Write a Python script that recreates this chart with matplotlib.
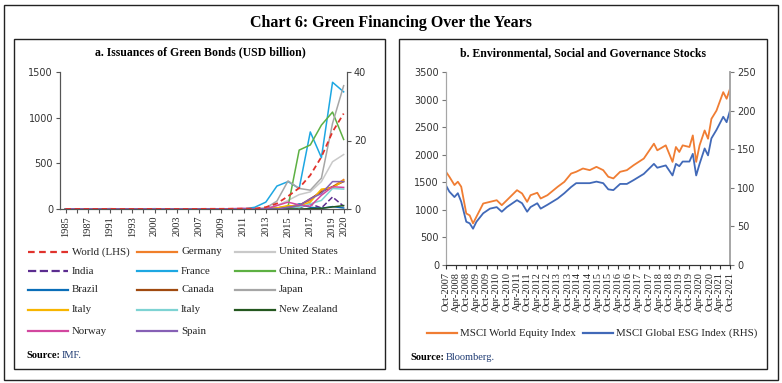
import matplotlib

matplotlib.use("Agg")
import matplotlib.pyplot as plt
from matplotlib.lines import Line2D
from matplotlib.patches import Rectangle

plt.rcParams["font.family"] = ["Liberation Serif", "DejaVu Serif"]

# ---- panel a: green bond issuance ----
years = ["1985", "1986", "1987", "1990", "1991", "1992", "1993", "1999", "2000",
         "2002", "2003", "2005", "2007", "2008", "2009", "2010", "2011", "2012",
         "2013", "2014", "2015", "2016", "2017", "2018", "2019", "2020"]
zeros = [0] * 17
world = [0, 0, 0, 0, 1, 0, 0, 0, 1, 0, 0, 0, 1, 2, 2, 3, 4,
         5, 20, 60, 140, 230, 370, 570, 845, 1045]
germany = [0, 0, 0, 0, 0.1, 0, 0, 0, 0, 0, 0, 0, 0, 0, 0, 0, 0,
           0, 0, 0.3, 0.8, 1.2, 2.5, 5.5, 6.5, 8.6]
united_states = zeros + [0, 0.3, 1.0, 2.5, 4.2, 5.0, 8.0, 13.8, 15.9]
india = zeros + [0, 0, 0, 0.5, 0.3, 1.5, 0.3, 3.5, 0.8]
france = zeros + [0.5, 2.0, 6.7, 8.0, 6.0, 22.5, 15.0, 37.0, 34.2]
china = zeros + [0, 0.1, 0.3, 0.7, 17.2, 18.7, 24.5, 28.3, 20.3]
brazil = zeros + [0, 0, 0, 0.3, 1.5, 0.5, 0.2, 0.7, 0.3]
canada = zeros + [0, 0, 0, 0.3, 1.0, 3.0, 5.0, 6.5, 8.0]
japan = zeros + [0, 0.3, 2.3, 8.2, 6.0, 5.5, 9.0, 25.0, 36.0]
italy = zeros + [0, 0, 0.3, 1.0, 0.8, 2.0, 5.8, 6.2, 8.3]
italy_2 = [0, 0, 0, 0, 0, 0, 0, 0, 0.1, 0, 0, 0, 0, 0, 0, 0, 0,
           0, 0, 0, 0, 0.5, 1.5, 2.5, 6.0, 5.8]
new_zealand = zeros + [0, 0, 0, 0, 0, 0.1, 0.2, 0.6, 1.0]
norway = [0, 0, 0, 0, 0, 0, 0, 0, 0, 0, 0, 0, 0, 0, 0, 0.1, 0.2,
          0, 0, 1.0, 2.0, 1.2, 0.8, 4.0, 6.5, 6.3]
spain = zeros + [0, 0, 0, 0.5, 1.0, 3.0, 4.5, 8.0, 8.0]

# ---- panel b: MSCI indices (months since Oct-2007) ----
months = [0, 2, 5, 7, 9, 12, 14, 16, 18, 22, 26, 30, 33, 36, 42, 45, 48, 50,
          54, 56, 60, 66, 70, 74, 77, 81, 85, 89, 93, 96, 99, 103, 107, 111,
          117, 123, 125, 130, 134, 136, 138, 140, 144, 146, 148, 150, 153,
          155, 157, 160, 164, 166, 168]
msci_world = [1690, 1600, 1450, 1510, 1420, 935, 900, 755, 875, 1115, 1145,
              1175, 1085, 1175, 1357, 1297, 1145, 1266, 1310, 1206, 1266,
              1417, 1508, 1658, 1690, 1750, 1720, 1780, 1720, 1600, 1570,
              1690, 1720, 1810, 1930, 2200, 2080, 2170, 1870, 2140, 2050,
              2170, 2140, 2350, 1870, 2170, 2440, 2290, 2650, 2800, 3135,
              3015, 3195]
msci_esg = [103, 95, 88, 93, 82, 56, 54, 47, 56, 67, 73, 75, 69, 75, 84, 80,
            69, 75, 80, 73, 78, 86, 93, 101, 106, 106, 106, 108, 106, 98, 97,
            105, 105, 110, 118, 131, 126, 129, 116, 131, 128, 134, 134, 144,
            116, 131, 151, 142, 164, 175, 192, 185, 200]
b_tick_labels = ["Oct-2007", "Apr-2008", "Oct-2008", "Apr-2009", "Oct-2009",
                 "Apr-2010", "Oct-2010", "Apr-2011", "Oct-2011", "Apr-2012",
                 "Oct-2012", "Apr-2013", "Oct-2013", "Apr-2014", "Oct-2014",
                 "Apr-2015", "Oct-2015", "Apr-2016", "Oct-2016", "Apr-2017",
                 "Oct-2017", "Apr-2018", "Oct-2018", "Apr-2019", "Oct-2019",
                 "Apr-2020", "Oct-2020", "Apr-2021", "Oct-2021"]

W, H = 782, 383
fig = plt.figure(figsize=(W / 100, H / 100), dpi=100)


def box(x0, y0, x1, y1, lw=1.0):
    fig.patches.append(Rectangle((x0 / W, 1 - y1 / H), (x1 - x0) / W, (y1 - y0) / H,
                                 transform=fig.transFigure, fill=False,
                                 edgecolor="#222222", linewidth=lw))


box(4, 5, 778, 380)
box(14, 39, 385, 369)
box(399, 39, 767, 369)
fig.text(391 / W, 1 - 23 / H, "Chart 6: Green Financing Over the Years",
         ha="center", va="center", fontsize=11.5, fontweight="bold")

# ---------- panel a ----------
ax = fig.add_axes([60 / W, 1 - 209 / H, 287 / W, 137 / H])
ax2 = ax.twinx()
x = list(range(len(years)))

others = [
    (germany, "#F07F2A", "-"), (united_states, "#C9C9C9", "-"),
    (india, "#5B2C8F", "--"), (france, "#1DA7E2", "-"),
    (china, "#5DB043", "-"), (brazil, "#0B6EB8", "-"),
    (canada, "#A04A10", "-"), (japan, "#A6A6A6", "-"),
    (italy, "#F7B500", "-"), (italy_2, "#7ED3D3", "-"),
    (new_zealand, "#24571F", "-"), (norway, "#D2479F", "-"),
    (spain, "#8660B5", "-"),
]
for vals, col, ls in others:
    ax2.plot(x, vals, color=col, linestyle=ls, linewidth=1.1)
ax.plot(x, world, color="#E0322C", linestyle=(0, (3, 2)), linewidth=1.3)
ax.set_zorder(ax2.get_zorder() + 1)
ax.patch.set_visible(False)

ax.set_xlim(-0.5, 25.3)
ax.set_ylim(0, 1500)
ax2.set_ylim(0, 40)
ax.set_yticks([0, 500, 1000, 1500])
ax2.set_yticks([0, 20, 40])
ax.set_xticks(x)
ax.set_xticklabels([y if (i % 2 == 0 or i == len(years) - 1) else ""
                    for i, y in enumerate(years)], rotation=90, fontsize=7.5)
for a in (ax, ax2):
    a.spines["top"].set_visible(False)
    a.spines["left"].set_color("#555555")
    a.spines["right"].set_color("#555555")
    a.spines["bottom"].set_color("#555555")
    a.tick_params(axis="y", length=3, pad=2, colors="#555555", labelsize=7)
    for lab in a.get_yticklabels():
        lab.set_fontfamily("DejaVu Sans")
        lab.set_color("#333333")
ax.tick_params(axis="x", length=3, pad=2, colors="#555555", labelcolor="#222222")

fig.text(200 / W, 1 - 52 / H, "a. Issuances of Green Bonds (USD billion)",
         ha="center", va="center", fontsize=8.5, fontweight="bold")

legend_names = ["World (LHS)", "Germany", "United States", "India", "France",
                "China, P.R.: Mainland", "Brazil", "Canada", "Japan", "Italy",
                "Italy", "New Zealand", "Norway", "Spain"]
legend_styles = [("#E0322C", (0, (3, 2)))] + [(c, l) for _, c, l in others]
col_x = [28, 137, 235]
row_y = [252, 271, 290, 310, 331]
for i, (name, (col, ls)) in enumerate(zip(legend_names, legend_styles)):
    r, c = divmod(i, 3)
    x0, y0 = col_x[c], row_y[r]
    fig.add_artist(Line2D([x0 / W, (x0 + 40) / W], [1 - y0 / H, 1 - y0 / H],
                          color=col, linestyle=ls, linewidth=1.6))
    fig.text((x0 + 44) / W, 1 - y0 / H, name, ha="left", va="center",
             fontsize=7.8, color="#222222")

fig.text(26 / W, 1 - 356 / H, "Source:", ha="left", va="center", fontsize=7.5,
         fontweight="bold")
fig.text(62 / W, 1 - 356 / H, "IMF.", ha="left", va="center", fontsize=7.5,
         color="#1F3B73")

# ---------- panel b ----------
bx = fig.add_axes([446 / W, 1 - 265 / H, 284 / W, 193 / H])
bx2 = bx.twinx()
bx.plot(months, msci_world, color="#F07D33", linewidth=1.3)
bx2.plot(months, msci_esg, color="#4169B8", linewidth=1.3)
bx.set_xlim(0, 168)
bx.set_ylim(0, 3500)
bx2.set_ylim(0, 250)
bx.set_yticks(range(0, 3501, 500))
bx2.set_yticks(range(0, 251, 50))
bx.set_xticks(range(0, 169, 6))
bx.set_xticklabels(b_tick_labels, rotation=90, fontsize=7.5)
for a in (bx, bx2):
    a.spines["top"].set_visible(False)
    a.spines["left"].set_color("#A6A6A6")
    a.spines["right"].set_color("#A6A6A6")
    a.spines["right"].set_linewidth(1.2)
    a.spines["bottom"].set_color("#333333")
    a.tick_params(axis="y", length=3, pad=2, colors="#777777", labelsize=7)
    for lab in a.get_yticklabels():
        lab.set_fontfamily("DejaVu Sans")
        lab.set_color("#333333")
bx.tick_params(axis="x", length=3, pad=2, colors="#333333", labelcolor="#222222")

fig.text(583 / W, 1 - 53 / H, "b. Environmental, Social and Governance Stocks",
         ha="center", va="center", fontsize=8.5, fontweight="bold")

for x0, col, name in [(427, "#F07D33", "MSCI World Equity Index"),
                      (583, "#4169B8", "MSCI Global ESG Index (RHS)")]:
    fig.add_artist(Line2D([x0 / W, (x0 + 30) / W], [1 - 333 / H, 1 - 333 / H],
                          color=col, linewidth=1.6))
    fig.text((x0 + 33) / W, 1 - 333 / H, name, ha="left", va="center",
             fontsize=7.8, color="#222222")

fig.text(410 / W, 1 - 357 / H, "Source:", ha="left", va="center", fontsize=7.5,
         fontweight="bold")
fig.text(446 / W, 1 - 357 / H, "Bloomberg.", ha="left", va="center",
         fontsize=7.5, color="#1F3B73")

fig.savefig("out.png", dpi=100)
